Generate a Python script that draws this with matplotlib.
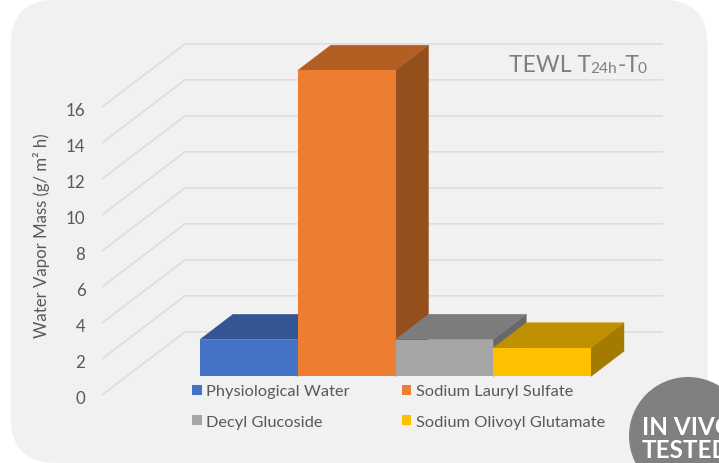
import matplotlib
matplotlib.use("Agg")
import matplotlib.pyplot as plt
from matplotlib.patches import Polygon, Patch, FancyBboxPatch, Circle, Rectangle

categories = ["Physiological Water", "Sodium Lauryl Sulfate", "Decyl Glucoside", "Sodium Olivoyl Glutamate"]
values = [2.05, 17.0, 2.05, 1.58]
front_colors = ["#4472C4", "#ED7D31", "#A5A5A5", "#FFC000"]
top_colors = ["#335593", "#B35E23", "#7C7C7C", "#BF9000"]
side_colors = ["#2F5088", "#954F1D", "#686868", "#A37B00"]
y_ticks = [0, 2, 4, 6, 8, 10, 12, 14, 16]

plt.rcParams["font.family"] = ["Lato", "DejaVu Sans"]
W, H = 719, 464
fig = plt.figure(figsize=(W / 100, H / 100), dpi=100, facecolor="white")

# pixel space overlay for panel and annotations
px = fig.add_axes([0, 0, 1, 1], zorder=0)
px.set_xlim(0, W); px.set_ylim(H, 0); px.axis("off")
px.add_patch(FancyBboxPatch((10.5 + 46, 0.6 + 46), 697.2 - 92, 463.4 - 92,
                            boxstyle="round,pad=46,rounding_size=46",
                            fc="#F1F1F1", ec="none"))
px.add_patch(Rectangle((366, 0), 7, 1, fc="#BDEBFB", ec="none"))
px.add_patch(Rectangle((396, 0), 3, 1, fc="#BDEBFB", ec="none"))

# chart axes: x in bar widths, y in value units (front plane of bars)
X0, XU, Y0, YU = 200.0, 97.75, 377.4, 18.0
ax = fig.add_axes([0, 0, 1, 1], zorder=1)
ax.set_xlim(-X0 / XU, (W - X0) / XU)
ax.set_ylim((Y0 - H) / YU, Y0 / YU)
ax.axis("off")
ax.patch.set_alpha(0)

# depth of bar and of floor, in axis units
DX, DY = 33 / XU, 25.2 / YU
FRONT_DX, FRONT_DY = -98 / XU, -18.5 / YU
BACK_DX, BACK_DY = -15 / XU, 44.5 / YU
GRID_END = 4.73

for v in y_ticks:
    ax.plot([FRONT_DX, BACK_DX, GRID_END],
            [v + FRONT_DY, v + BACK_DY, v + BACK_DY],
            color="#DADADA", lw=1.0, solid_joinstyle="miter", zorder=1)
    ax.text(FRONT_DX - 0.17, v + FRONT_DY - 0.15, str(v), ha="right", va="center",
            fontsize=12.2, color="#595959", zorder=5)

for i, (v, fc, tc, sc) in enumerate(zip(values, front_colors, top_colors, side_colors)):
    z = 2 + i
    ax.add_patch(Polygon([(i + 1, 0), (i + 1 + DX, DY), (i + 1 + DX, v + DY), (i + 1, v)],
                         closed=True, fc=sc, ec=sc, lw=0.3, zorder=z))
    ax.add_patch(Polygon([(i, v), (i + DX, v + DY), (i + 1 + DX, v + DY), (i + 1, v)],
                         closed=True, fc=tc, ec=tc, lw=0.3, zorder=z))
    ax.bar(i, v, width=1, align="edge", color=fc, linewidth=0, zorder=z)

handles = [Patch(fc=c, ec="none") for c in front_colors]
# legend fills column-wise: reorder so rows read as in the source
order = [0, 2, 1, 3]
leg = ax.legend([handles[k] for k in order], [categories[k] for k in order],
                ncols=2, frameon=False, fontsize=11.8, labelcolor="#595959",
                handlelength=0.58, handleheight=0.58, handletextpad=0.3,
                columnspacing=3.15, labelspacing=1.0, borderpad=0, borderaxespad=0,
                loc="upper left", bbox_to_anchor=(192 / W, 1 - 385.5 / H))
leg.set_zorder(6)

# axis title
fig.text(42 / W, 1 - 236 / H, "Water Vapor Mass (g/ m\u00b2 h)", rotation=90,
         ha="center", va="center", fontsize=12.1, color="#595959")

# chart title pieces
title_kw = dict(color="#7F7F7F", va="baseline", ha="left")
fig.text(509 / W, 1 - 72 / H, "TEWL T", fontsize=16.6, **title_kw)
fig.text(590 / W, 1 - 72.6 / H, "24h", fontsize=11.2, **title_kw)
fig.text(617.5 / W, 1 - 72 / H, "-T", fontsize=16.6, **title_kw)
fig.text(638 / W, 1 - 72.6 / H, "0", fontsize=11.2, **title_kw)

# badge
px2 = fig.add_axes([0, 0, 1, 1], zorder=7)
px2.set_xlim(0, W); px2.set_ylim(H, 0); px2.axis("off"); px2.patch.set_alpha(0)
px2.add_patch(Circle((688, 437), 59, fc="#808080", ec="none"))
px2.text(642, 434.8, "IN VIVO", color="white", fontsize=17.5, fontweight="bold", va="baseline", ha="left", clip_on=True)
px2.text(642, 458, "TESTED", color="white", fontsize=17.5, fontweight="bold", va="baseline", ha="left", clip_on=True)

fig.savefig("out.png", dpi=100)
